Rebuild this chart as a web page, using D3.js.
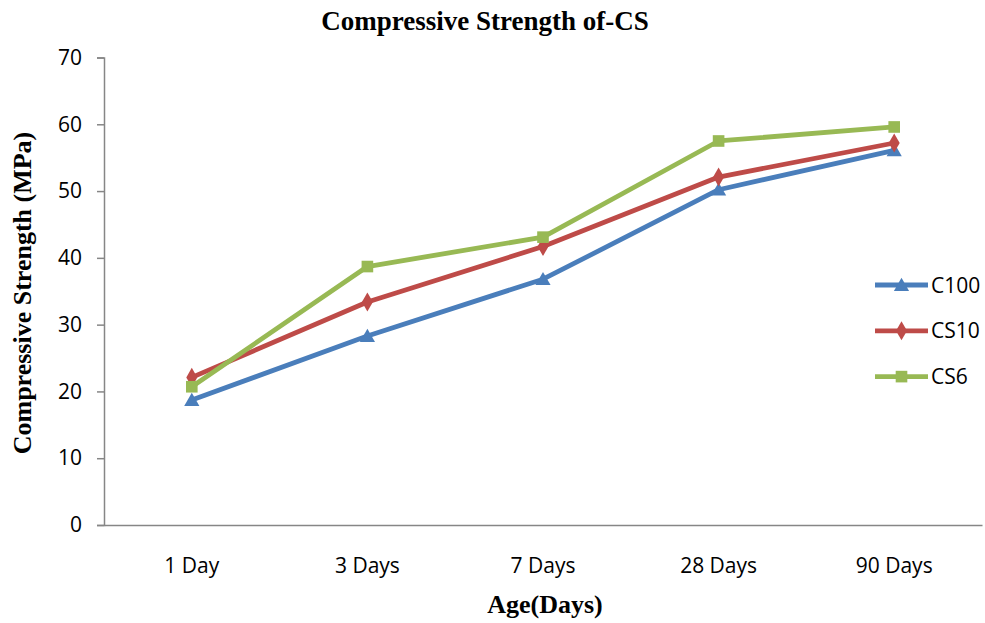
<!DOCTYPE html>
<html>
<head>
<meta charset="utf-8">
<script src="https://cdn.jsdelivr.net/npm/d3@7"></script>
<style>
  html, body { margin: 0; padding: 0; background: #fff; }
  svg { display: block; }
</style>
</head>
<body>
<svg id="chart" width="985" height="623"></svg>
<script>
// Compressive strength by curing age
const ages = ["1 Day", "3 Days", "7 Days", "28 Days", "90 Days"];
const c100 = [18.7, 28.3, 36.8, 50.2, 56.1];
const cs10 = [22.1, 33.4, 41.7, 52.1, 57.2];
const cs6  = [20.7, 38.7, 43.1, 57.5, 59.6];
const yTicks = [0, 10, 20, 30, 40, 50, 60, 70];

const series = [
  { name: "C100", values: c100, color: "#4A7EBB", marker: "triangle" },
  { name: "CS10", values: cs10, color: "#BE4B48", marker: "diamond" },
  { name: "CS6",  values: cs6,  color: "#98B954", marker: "square" }
];

const svg = d3.select("#chart");
const plotLeft = 104, plotRight = 982, plotTop = 57.5, plotBottom = 525;
const tickFont = "'Open Sans', Carlito, Calibri, sans-serif";
const serifFont = "'Liberation Serif', 'Times New Roman', serif";

const x = d3.scaleBand().domain(ages).range([plotLeft, plotRight]);
const y = d3.scaleLinear().domain([0, 70]).range([plotBottom, plotTop]);

// Y axis
const yAxis = svg.append("g")
  .attr("transform", `translate(${plotLeft},0)`)
  .call(d3.axisLeft(y).tickValues(yTicks).tickSize(7).tickPadding(15));
yAxis.select(".domain").attr("stroke", "#868686").attr("stroke-width", 1.5);
yAxis.selectAll(".tick line").attr("stroke", "#868686").attr("stroke-width", 1.5);
yAxis.selectAll(".tick text")
  .attr("font-family", tickFont).attr("font-size", 21).attr("fill", "#000");

// X axis (no category ticks)
const xAxis = svg.append("g")
  .attr("transform", `translate(0,${plotBottom})`)
  .call(d3.axisBottom(x).tickSize(0).tickSizeOuter(0));
xAxis.select(".domain").attr("stroke", "#868686").attr("stroke-width", 1.5);
xAxis.selectAll(".tick text")
  .attr("y", 48).attr("dy", 0)
  .attr("font-family", tickFont).attr("font-size", 21).attr("fill", "#000");

// Lines and markers
const cx = d => x(d) + x.bandwidth() / 2;
const line = d3.line().x((v, i) => cx(ages[i])).y(v => y(v));

const symbolFor = {
  triangle: d3.symbol().type(d3.symbolTriangle).size(100),
  diamond: d3.symbol().type(d3.symbolDiamond).size(105),
  square: d3.symbol().type(d3.symbolSquare).size(135)
};

series.forEach(s => {
  svg.append("path")
    .attr("d", line(s.values))
    .attr("fill", "none")
    .attr("stroke", s.color)
    .attr("stroke-width", 4.8)
    .attr("stroke-linejoin", "round");
});
series.forEach(s => {
  svg.append("g").selectAll("path")
    .data(s.values)
    .join("path")
    .attr("transform", (v, i) => `translate(${cx(ages[i])},${y(v) + (s.marker === "triangle" ? 1.5 : 0)})`)
    .attr("d", symbolFor[s.marker]())
    .attr("fill", s.color);
});

// Legend
const legend = svg.append("g");
series.forEach((s, i) => {
  const ly = 285 + i * 45.8;
  legend.append("line")
    .attr("x1", 875).attr("x2", 928).attr("y1", ly).attr("y2", ly)
    .attr("stroke", s.color).attr("stroke-width", 4.8);
  legend.append("path")
    .attr("transform", `translate(901.5,${ly + (s.marker === "triangle" ? 1.5 : 0)})`)
    .attr("d", symbolFor[s.marker]())
    .attr("fill", s.color);
  legend.append("text")
    .attr("x", 931).attr("y", ly).attr("dy", "0.36em")
    .attr("font-family", tickFont).attr("font-size", 21)
    .text(s.name);
});

// Titles
svg.append("text")
  .attr("x", 485).attr("y", 30)
  .attr("text-anchor", "middle")
  .attr("font-family", serifFont).attr("font-weight", "bold").attr("font-size", 27)
  .text("Compressive Strength of-CS");

svg.append("text")
  .attr("x", 545).attr("y", 613)
  .attr("text-anchor", "middle")
  .attr("font-family", serifFont).attr("font-weight", "bold").attr("font-size", 26)
  .text("Age(Days)");

svg.append("text")
  .attr("transform", "translate(31,293) rotate(-90)")
  .attr("text-anchor", "middle")
  .attr("font-family", serifFont).attr("font-weight", "bold").attr("font-size", 26)
  .text("Compressive Strength (MPa)");
</script>
</body>
</html>
